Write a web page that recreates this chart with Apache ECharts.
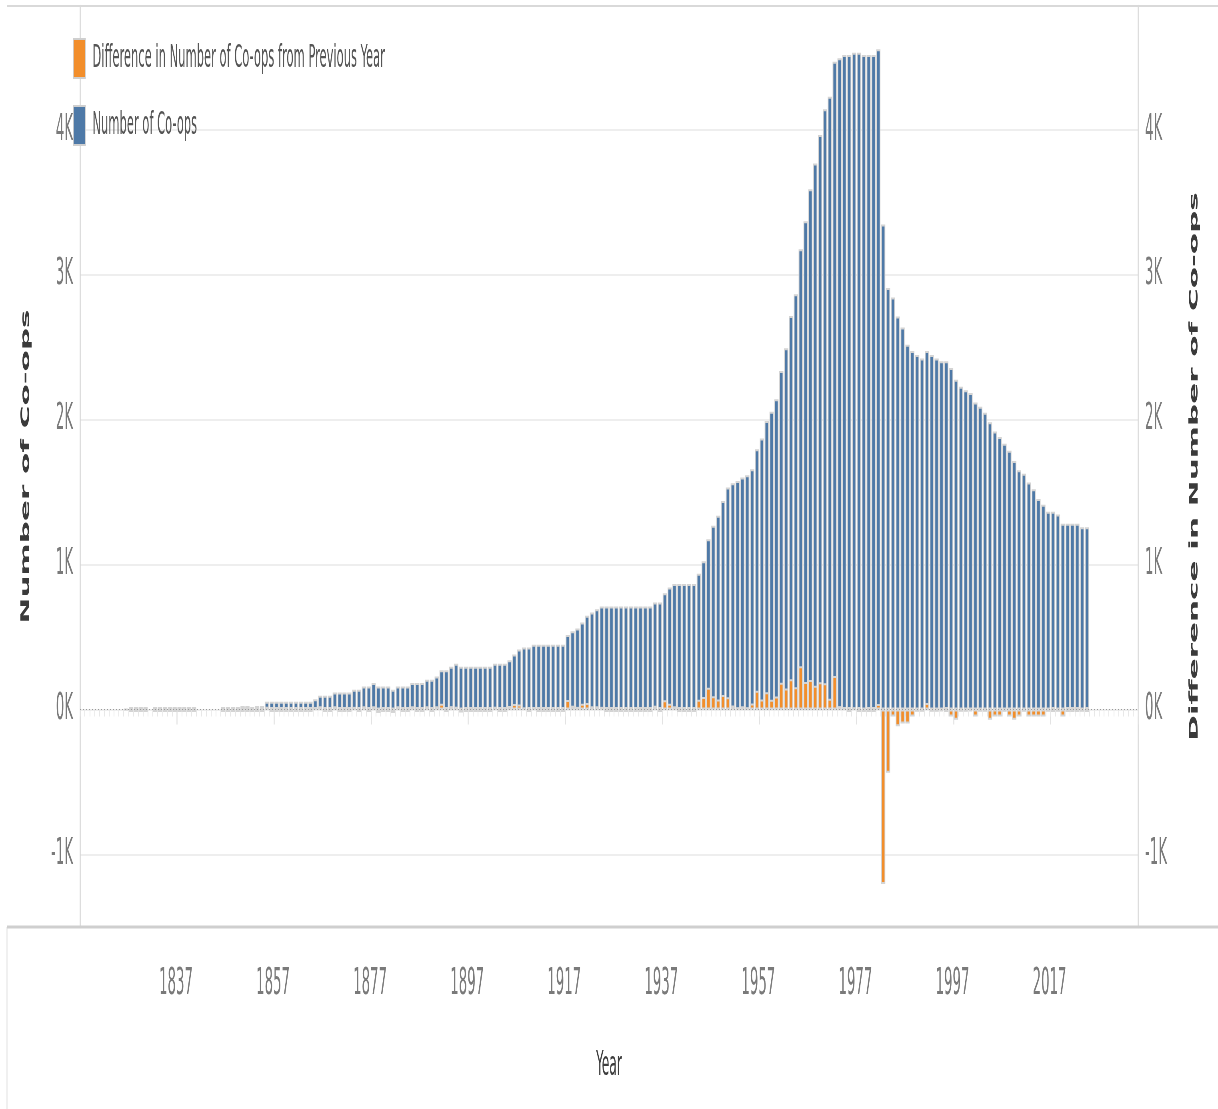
<!DOCTYPE html>
<html>
<head>
<meta charset="utf-8">
<script src="https://cdn.jsdelivr.net/npm/echarts@6/dist/echarts.min.js"></script>
<style>
html,body{margin:0;padding:0;background:#fff;overflow:hidden;width:1218px;height:1109px}
#chart{width:3045px;height:1109px;transform:scaleX(0.4);transform-origin:0 0;}
</style>
</head>
<body>
<div id="chart"></div>
<script>
// Axis domain (years shown on the continuous year axis)
const axisFirstYear = 1817;
const axisLastYear = 2034;
const xTickYears = [1837, 1857, 1877, 1897, 1917, 1937, 1957, 1977, 1997, 2017];

// Data start year
const dataFirstYear = 1826;

// Number of Co-ops, 1826..2024
const coops = [
  1, 1, 1, 1, 1, null, 2, 10, 2, 2,            // 1826-1835
  2, 2, 1, 1, 1, null, null, null, null, null, // 1836-1845
  8, 8, 8, 8, 25, 25, 8, 25, 25, 54,           // 1846-1855
  54, 54, 54, 54, 54, 54, 54, 54, 54, 72,      // 1856-1865
  95, 95, 95, 118, 118, 118, 118, 137, 137, 160, // 1866-1875
  160, 183, 160, 160, 160, 137, 160, 160, 160, 183, // 1876-1885
  183, 183, 206, 206, 229, 272, 272, 296, 316, 296, // 1886-1895
  296, 296, 296, 296, 296, 296, 316, 316, 316, 341, // 1896-1905
  380, 415, 429, 429, 447, 447, 447, 447, 447, 447, // 1906-1915
  447, 514, 541, 560, 601, 647, 670, 693, 712, 712, // 1916-1925
  712, 712, 712, 712, 712, 712, 712, 712, 712, 739, // 1926-1935
  739, 803, 843, 866, 866, 866, 866, 866, 937, 1024, // 1936-1945
  1176, 1268, 1337, 1440, 1532, 1562, 1578, 1601, 1617, 1659, // 1946-1955
  1797, 1870, 1992, 2056, 2141, 2337, 2493, 2716, 2866, 3176, // 1956-1965
  3370, 3590, 3769, 3965, 4142, 4229, 4471, 4494, 4517, 4517, // 1966-1975
  4533, 4533, 4517, 4517, 4517, 4556, 3348, 2910, 2843, 2713, // 1976-1985
  2637, 2518, 2475, 2447, 2423, 2475, 2447, 2423, 2404, 2404, // 1986-1995
  2357, 2276, 2228, 2204, 2185, 2119, 2090, 2048, 1983, 1919, // 1996-2005
  1881, 1834, 1786, 1715, 1651, 1627, 1567, 1520, 1453, 1413, // 2006-2015
  1366, 1366, 1346, 1282, 1282, 1282, 1282, 1259, 1259        // 2016-2024
];

// Difference in Number of Co-ops from Previous Year, 1826..2024
const diffs = [
  null, 0, 0, 0, 0, null, 0, 0, 0, 0,          // 1826-1835
  0, 0, 0, 0, 0, null, null, null, null, null, // 1836-1845
  0, 0, 0, 0, 0, 0, 0, 0, 0, 20,               // 1846-1855
  0, 0, 0, 0, 0, 0, 0, 0, 0, 18,               // 1856-1865
  23, 0, 0, 23, 0, 0, 0, 19, 0, 23,            // 1866-1875
  0, 23, -23, 0, 0, -23, 23, 0, 0, 23,         // 1876-1885
  0, 0, 23, 0, 23, 40, 0, 24, 20, -20,         // 1886-1895
  0, 0, 0, 0, 0, 0, 20, 0, 0, 25,              // 1896-1905
  39, 35, 14, 0, 18, 0, 0, 0, 0, 0,            // 1906-1915
  0, 67, 27, 19, 41, 46, 23, 23, 19, 0,        // 1916-1925
  0, 0, 0, 0, 0, 0, 0, 0, 0, 27,               // 1926-1935
  0, 64, 40, 23, 0, 0, 0, 0, 68, 87,           // 1936-1945
  150, 92, 70, 100, 85, 28, 16, 23, 16, 42,    // 1946-1955
  130, 70, 120, 68, 90, 185, 145, 210, 155, 300, // 1956-1965
  190, 205, 165, 188, 182, 75, 232, 24, 18, 0, // 1966-1975
  16, 0, -16, 0, 0, 39, -1204, -436, -48, -115, // 1976-1985
  -95, -95, -48, -15, -15, 45, -15, -15, -12, 0, // 1986-1995
  -48, -70, -15, -15, -12, -48, -15, -15, -70, -48, // 1996-2005
  -48, -15, -48, -70, -48, -15, -48, -48, -48, -48, // 2006-2015
  -15, 0, -15, -48, 0, 0, 0, -15, 0            // 2016-2024
];

const seriesNames = ['Difference in Number of Co-ops from Previous Year', 'Number of Co-ops'];
const axisTitles = { x: 'Year', left: 'Number of Co-ops', right: 'Difference in Number of Co-ops' };

// ---- layout helpers: the drawing is squeezed horizontally by S (CSS scaleX) ----
const S = 0.4;
const W = 1218 / S;
const ex = v => v / S;   // horizontal page pixels -> chart pixels

// ---- build table ----
const years = [];
for (let y = axisFirstYear; y <= axisLastYear; y++) years.push(String(y));
function pick(arr, yStr) {
  const i = Number(yStr) - dataFirstYear;
  return (i >= 0 && i < arr.length) ? arr[i] : null;
}
const countData = years.map(y => pick(coops, y));
// zero-change marks keep a visible grey halo at the baseline
const zeroHalo = { borderWidth: 5 };
const diffData = years.map(y => {
  const v = pick(diffs, y);
  return v === 0 ? { value: 0, itemStyle: zeroHalo } : v;
});
const tickSet = new Set(xTickYears.map(String));
const showTick = (idx, val) => tickSet.has(String(val));

const narrow = "'Liberation Sans Narrow', 'DejaVu Sans Condensed', 'Roboto Condensed', 'Liberation Sans', sans-serif";
const wide = "'DejaVu Sans', Verdana, sans-serif";

const chart = echarts.init(document.getElementById('chart'), null, { renderer: 'canvas' });

const yAxisBase = {
  type: 'value', min: -1500, max: 4855, splitNumber: 6,
  axisTick: { show: false },
  axisLine: { show: true, lineStyle: { color: '#d6d6d6', width: ex(1) } },
  axisLabel: {
    formatter: v => (v / 1000) + 'K',
    fontSize: 37, color: '#7a7a7a', fontFamily: narrow, margin: ex(7),
    padding: [16, 0, 0, 0],
    showMinLabel: false, showMaxLabel: false
  },
  nameLocation: 'middle', nameRotate: 90,
  nameTextStyle: { fontSize: 31, fontWeight: 'bold', fontFamily: wide, color: '#3a3a3a' }
};

const option = {
  animation: false,
  backgroundColor: '#ffffff',
  grid: { left: ex(80), right: ex(1218 - 1138), top: 6, bottom: 182, containLabel: false },
  legend: {
    data: seriesNames, orient: 'vertical', left: ex(71), top: 33,
    itemWidth: ex(12), itemHeight: 39, itemGap: 26, icon: 'rect',
    itemStyle: { borderColor: '#cfcfcf', borderWidth: 2 },
    textStyle: { fontSize: 32, color: '#555', fontFamily: narrow, padding: [0, 0, 0, ex(5)] },
    selectedMode: false
  },
  xAxis: [{
    type: 'category', data: years, boundaryGap: true,
    axisLine: { show: false },
    axisTick: { show: true, interval: showTick, length: 15, lineStyle: { color: '#e2e2e2', width: ex(1) } },
    axisLabel: { interval: showTick, fontSize: 37, color: '#7a7a7a', fontFamily: narrow, margin: 39, padding: [0, ex(7), 0, 0] },
    splitLine: { show: false },
    name: axisTitles.x, nameLocation: 'middle', nameGap: 122,
    nameTextStyle: { fontSize: 34, color: '#3d3d3d', fontFamily: narrow }
  }, {
    type: 'category', data: years, boundaryGap: true, position: 'bottom',
    axisLine: { show: false }, axisLabel: { show: false },
    axisTick: { show: true, interval: 0, length: 7, lineStyle: { color: '#e8e8e8', width: ex(0.8) } }
  }],
  yAxis: [
    Object.assign({}, yAxisBase, {
      position: 'left', name: axisTitles.left, nameGap: ex(48),
      splitLine: { show: true, lineStyle: { color: '#eeeeee', width: 2 } }
    }),
    Object.assign({}, yAxisBase, {
      position: 'right', name: axisTitles.right, nameGap: ex(50),
      splitLine: { show: false }
    })
  ],
  series: [
    {
      name: '_zero', type: 'line', data: [], xAxisIndex: 0, yAxisIndex: 0, z: 1, silent: true,
      markLine: {
        silent: true, symbol: ['none', 'none'], label: { show: false },
        lineStyle: { type: [ex(1), ex(2)], color: '#9a9a9a', width: 1 },
        data: [{ yAxis: 0 }]
      }
    },
    {
      name: seriesNames[1], type: 'bar', data: countData, xAxisIndex: 0, yAxisIndex: 0,
      barWidth: '86%', barGap: '-100%', z: 2,
      itemStyle: { color: '#4e79a7', borderColor: '#d4d4d4', borderWidth: 2 }
    },
    {
      name: seriesNames[0], type: 'bar', data: diffData, xAxisIndex: 0, yAxisIndex: 1,
      barWidth: '86%', barGap: '-100%', z: 3,
      itemStyle: { color: '#f28e2b', borderColor: '#d4d4d4', borderWidth: 2 }
    }
  ],
  graphic: [
    { type: 'line', silent: true, z: 10, shape: { x1: ex(7), y1: 6, x2: W, y2: 6 }, style: { stroke: '#d9d9d9', lineWidth: 2 } },
    { type: 'line', silent: true, z: 10, shape: { x1: ex(7), y1: 927, x2: ex(7), y2: 1109 }, style: { stroke: '#e6e6e6', lineWidth: ex(1) } },
    { type: 'line', silent: true, z: 10, shape: { x1: ex(7), y1: 927, x2: W, y2: 927 }, style: { stroke: '#cfcfcf', lineWidth: 3 } }
  ]
};
chart.setOption(option);
</script>
</body>
</html>
